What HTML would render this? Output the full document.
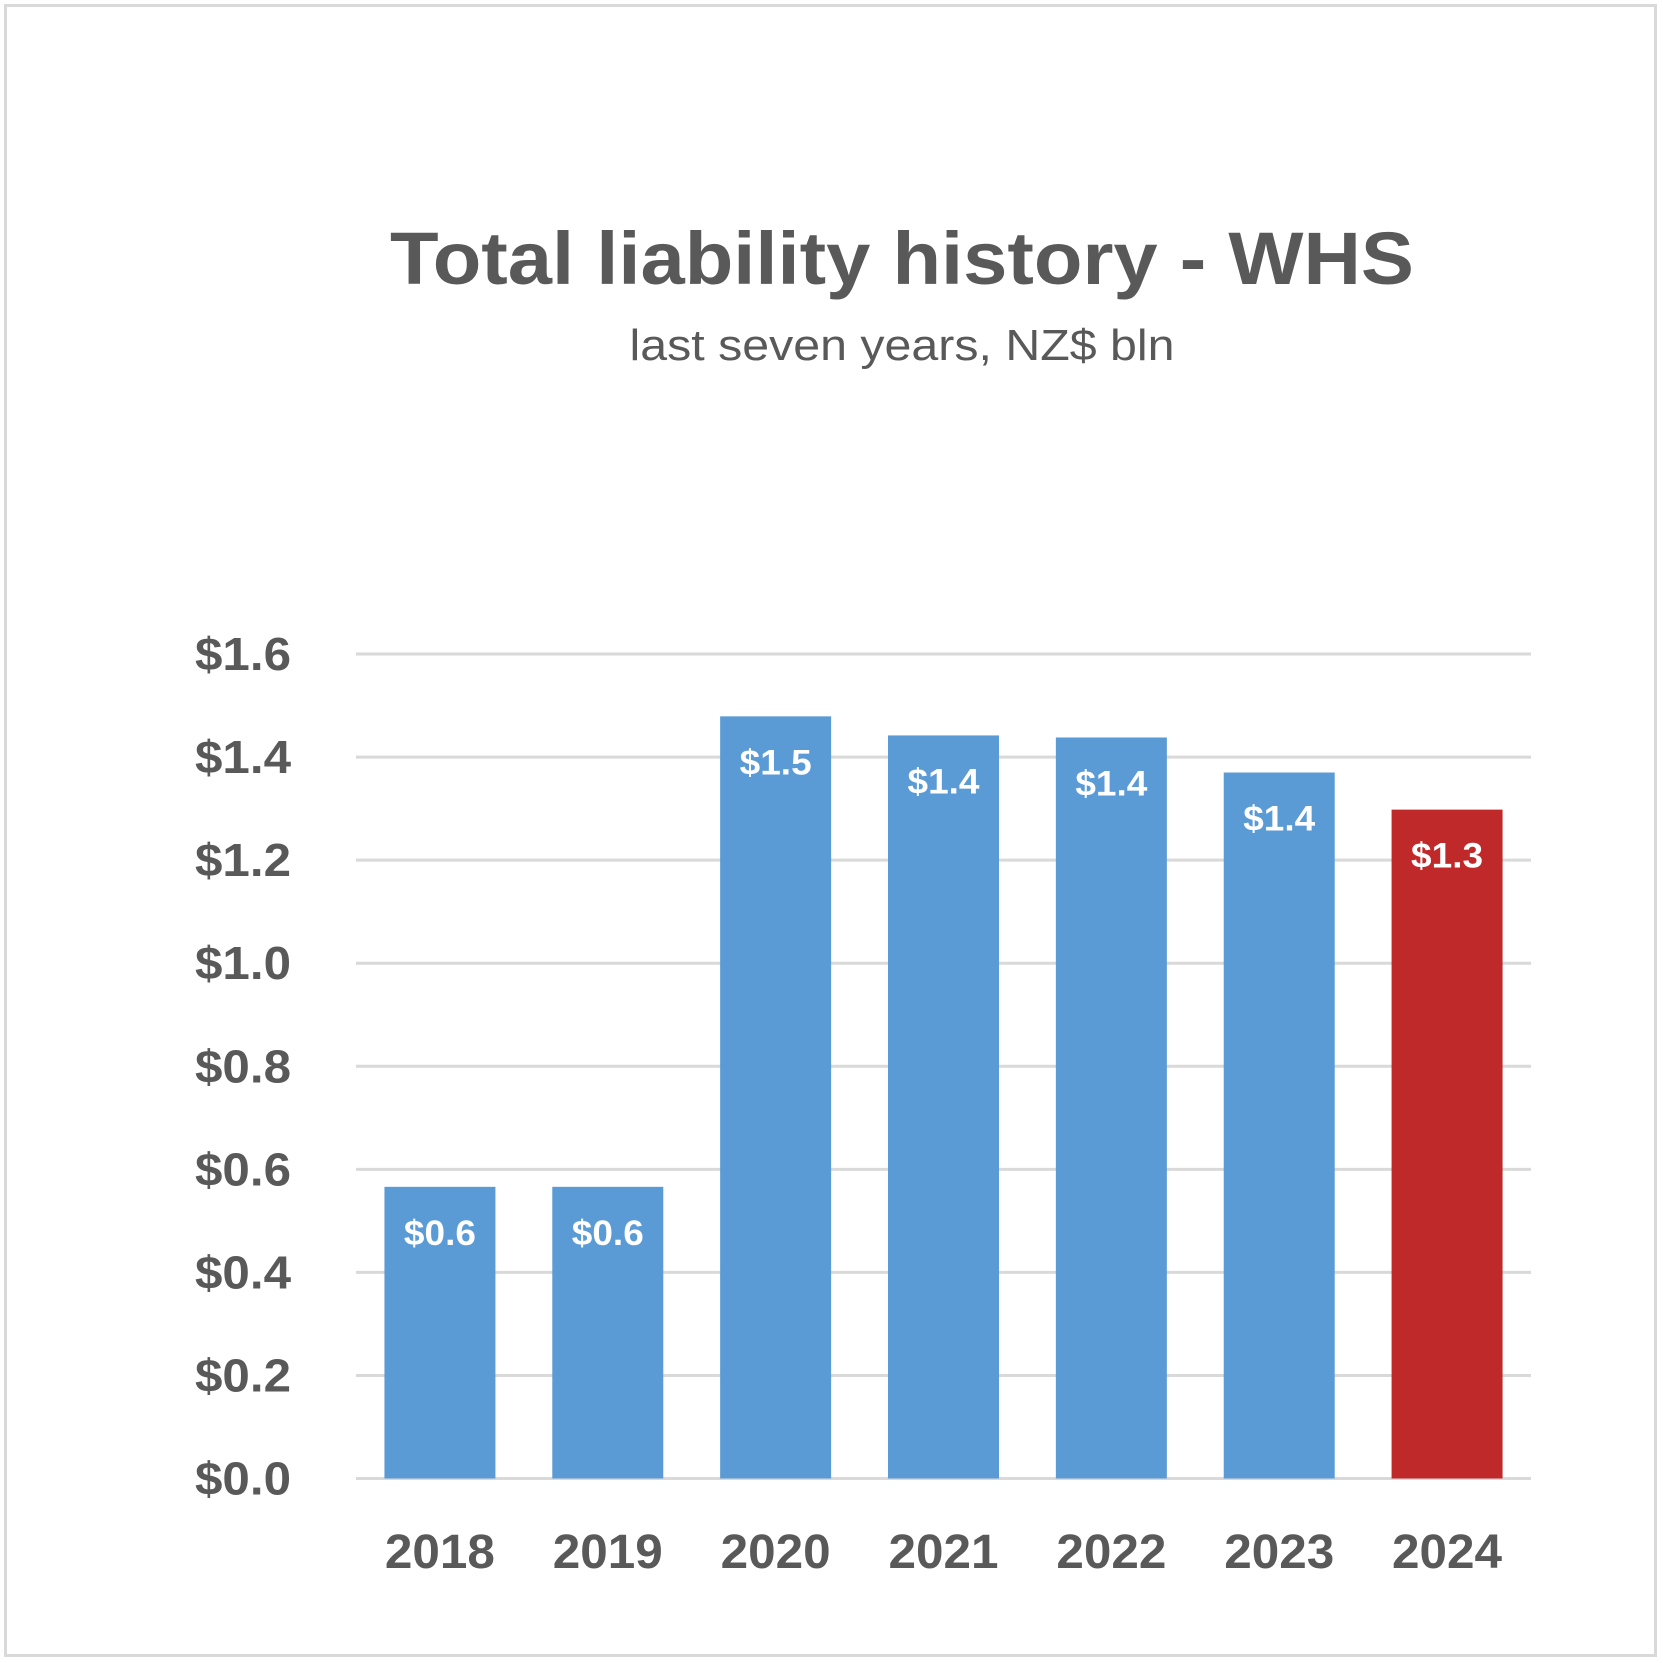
<!DOCTYPE html>
<html><head><meta charset="utf-8"><style>
html,body{margin:0;padding:0;background:#fff;}
svg{display:block;font-family:"Liberation Sans",sans-serif;}
</style></head><body>
<svg id="chart" width="1663" height="1663" viewBox="0 0 1663 1663">
<rect x="5.5" y="5.5" width="1650" height="1650" fill="#fff" stroke="#d9d9d9" stroke-width="3"/>
<text x="902" y="284" text-anchor="middle" font-size="74" font-weight="bold" fill="#595959" textLength="1024" lengthAdjust="spacingAndGlyphs">Total liability history - WHS</text>
<text x="902" y="360" text-anchor="middle" font-size="44" fill="#595959" textLength="545" lengthAdjust="spacingAndGlyphs">last seven years, NZ$ bln</text>
<g id="grid"></g><g id="bars"></g><g id="labels"></g>
</svg>
<script>
const categories=["2018","2019","2020","2021","2022","2023","2024"];
const values=[0.566,0.566,1.479,1.442,1.438,1.370,1.298];
const valueLabels=["$0.6","$0.6","$1.5","$1.4","$1.4","$1.4","$1.3"];
const yTicks=[0,0.2,0.4,0.6,0.8,1.0,1.2,1.4,1.6];
const yTickLabels=["$0.0","$0.2","$0.4","$0.6","$0.8","$1.0","$1.2","$1.4","$1.6"];
const NS="http://www.w3.org/2000/svg";
const L=356,R=1531,B=1478.5,T=654,yMax=1.6;
const y=v=>B-(v/yMax)*(B-T);
const band=(R-L)/categories.length;
const x=i=>L+band*i+band/2;
const bw=111;
function mk(tag,attrs,parent,txt){const e=document.createElementNS(NS,tag);for(const k in attrs)e.setAttribute(k,attrs[k]);if(txt!==undefined)e.textContent=txt;document.getElementById(parent).appendChild(e);return e;}
yTicks.forEach((t,i)=>{
  const g=mk('line',{x1:L,x2:R,y1:y(t),y2:y(t),stroke:'#d9d9d9','stroke-width':3},'grid');
  
  
  const tl=mk('text',{x:291,y:y(t)+16,'text-anchor':'end','font-size':46,'font-weight':'bold',fill:'#595959',textLength:96,lengthAdjust:'spacingAndGlyphs'},'labels',yTickLabels[i]);
  
  
});
categories.forEach((c,i)=>{
  const last=i===categories.length-1;
  const b=mk('rect',{x:x(i)-bw/2,y:y(values[i]),width:bw,height:B-y(values[i]),fill:last?'#C0292A':'#5B9BD5'},'bars');
  
  
  const vl=mk('text',{x:x(i),y:y(values[i])+58,'text-anchor':'middle','font-size':35,'font-weight':'bold',fill:'#fff',textLength:72,lengthAdjust:'spacingAndGlyphs'},'labels',valueLabels[i]);
  
  
  const xl=mk('text',{x:x(i),y:1568,'text-anchor':'middle','font-size':48,'font-weight':'bold',fill:'#595959',textLength:110,lengthAdjust:'spacingAndGlyphs'},'labels',c);
  
  
});
mk('line',{x1:L,x2:R,y1:B,y2:B,stroke:'#d9d9d9','stroke-width':3},'grid');
</script>
</body></html>
